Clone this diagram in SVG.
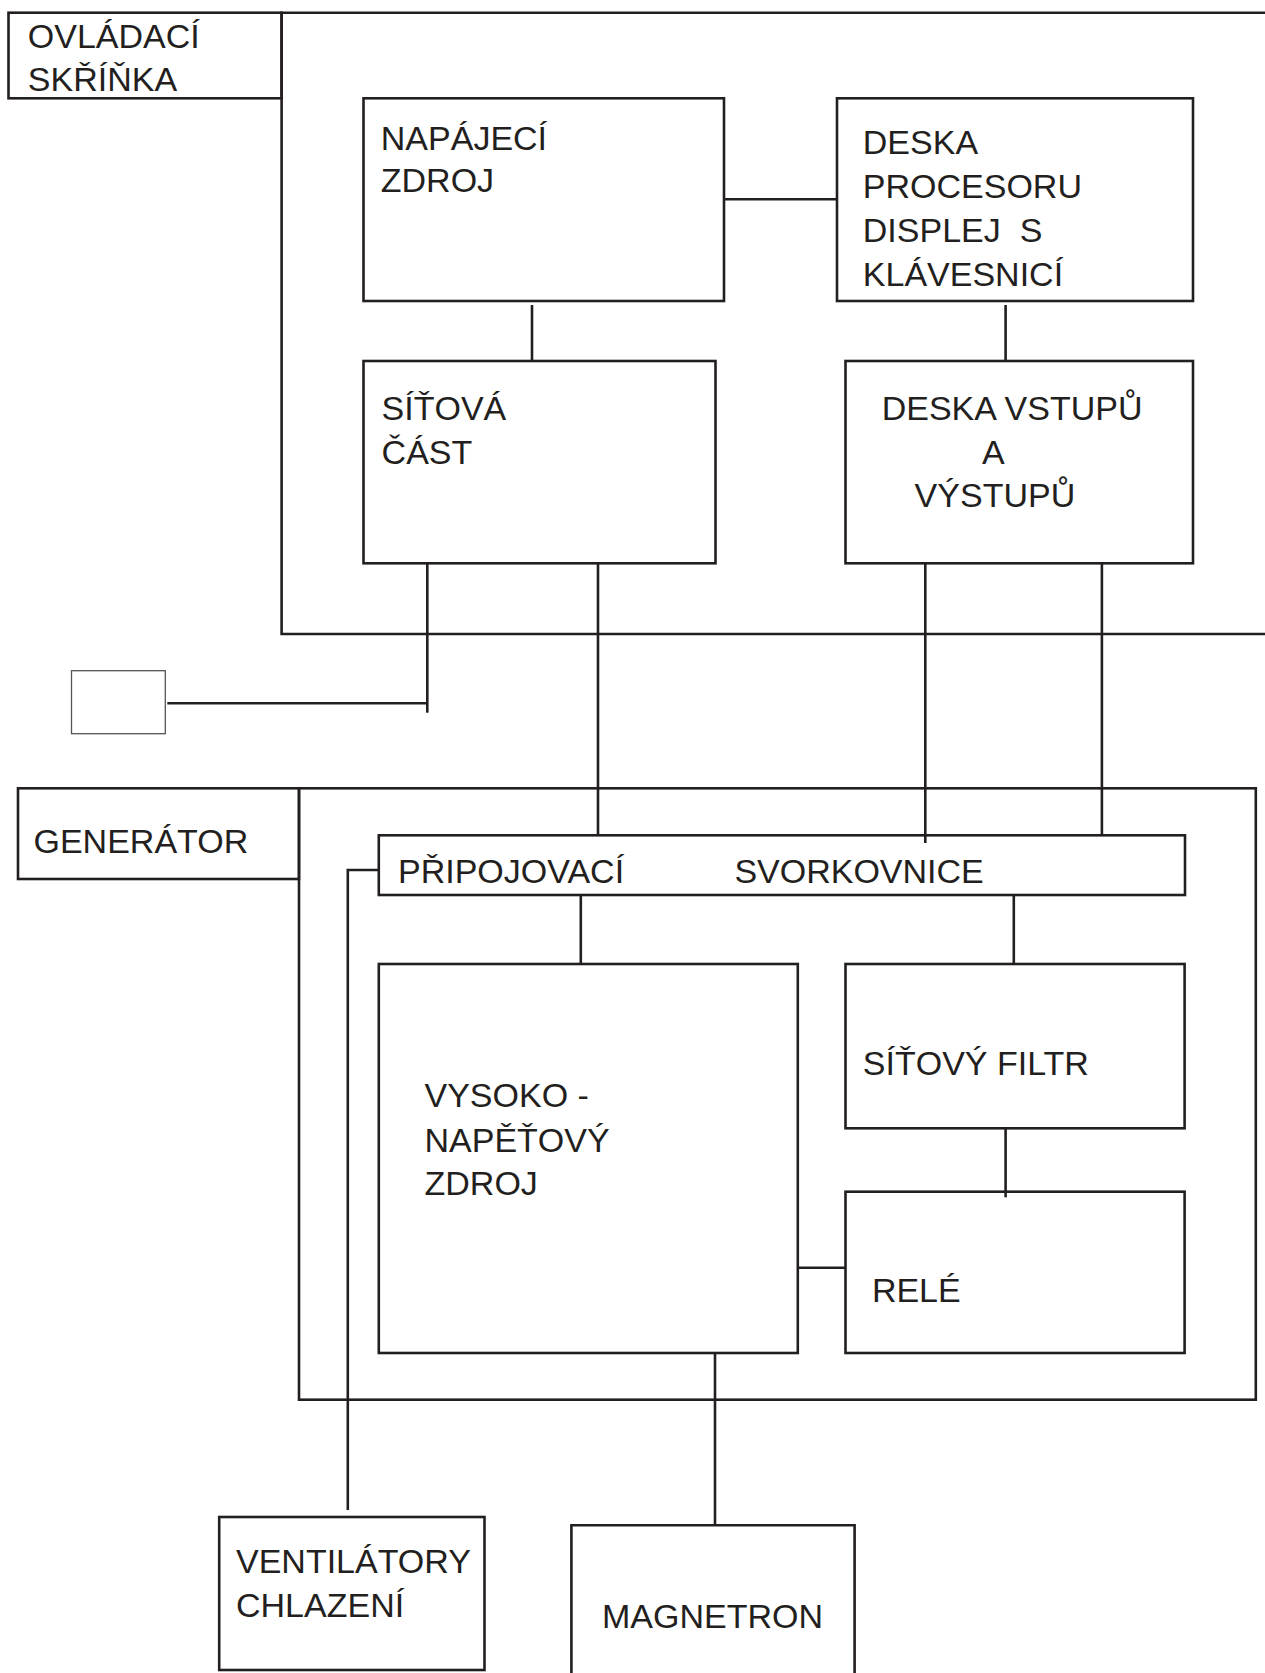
<svg xmlns="http://www.w3.org/2000/svg" width="1265" height="1673" viewBox="0 0 1265 1673">
<style>
.box{fill:none;stroke:#231f20;stroke-width:2.6}
.thin{fill:none;stroke:#555;stroke-width:1.3}
.ln{fill:none;stroke:#231f20;stroke-width:2.6}
text{font-family:"Liberation Sans",Arial,sans-serif;font-size:34px;fill:#231f20}
</style>
<rect width="1265" height="1673" fill="#fff"/>
<g id="ovladaci-skrinka">
<path class="box" d="M1265,12.7 H281.6 V634 H1265"/>
<rect class="box" x="8.5" y="12.7" width="273.1" height="85.6"/>
<text x="27.8" y="47.7">OVLÁDACÍ</text>
<text x="27.8" y="90.7">SKŘÍŇKA</text>
</g>
<g id="napajeci-zdroj">
<rect class="box" x="363.5" y="98.3" width="360.5" height="202.7"/>
<text x="380.8" y="150">NAPÁJECÍ</text>
<text x="380.8" y="192.3">ZDROJ</text>
</g>
<g id="deska-procesoru">
<rect class="box" x="837" y="98.3" width="356" height="202.7"/>
<text x="862.8" y="154">DESKA</text>
<text x="862.8" y="198.3">PROCESORU</text>
<text x="862.8" y="242.3" xml:space="preserve">DISPLEJ  S</text>
<text x="862.8" y="286">KLÁVESNICÍ</text>
</g>
<g id="sitova-cast">
<rect class="box" x="363.5" y="361" width="352" height="202.3"/>
<text x="381.6" y="420">SÍŤOVÁ</text>
<text x="381.6" y="464.3">ČÁST</text>
</g>
<g id="deska-vstupu">
<rect class="box" x="845.5" y="361" width="347.5" height="202.3"/>
<text x="881.7" y="420">DESKA VSTUPŮ</text>
<text x="982" y="464">A</text>
<text x="914.6" y="506.7">VÝSTUPŮ</text>
</g>
<g id="maly-blok">
<rect class="thin" x="71.5" y="670.7" width="93.8" height="63"/>
</g>
<g id="generator">
<rect class="box" x="299" y="788.3" width="956.8" height="611.4"/>
<rect class="box" x="18" y="788.3" width="281" height="90.7"/>
<text x="33.5" y="853.3">GENERÁTOR</text>
</g>
<g id="svorkovnice">
<rect class="box" x="378.8" y="835.3" width="806.2" height="59.7"/>
<text x="398" y="883.3">PŘIPOJOVACÍ</text>
<text x="734.4" y="883.3">SVORKOVNICE</text>
</g>
<g id="vysokonapetovy-zdroj">
<rect class="box" x="378.8" y="964" width="419" height="389"/>
<text x="424.5" y="1106.7">VYSOKO -</text>
<text x="424.5" y="1151.7">NAPĚŤOVÝ</text>
<text x="424.5" y="1195">ZDROJ</text>
</g>
<g id="sitovy-filtr">
<rect class="box" x="845.5" y="964" width="339.1" height="164.3"/>
<text x="862.8" y="1075">SÍŤOVÝ FILTR</text>
</g>
<g id="rele">
<rect class="box" x="845.5" y="1191.7" width="339.1" height="161.3"/>
<text x="871.9" y="1301.7">RELÉ</text>
</g>
<g id="ventilatory">
<rect class="box" x="219.2" y="1517" width="265.3" height="153"/>
<text x="236" y="1573.3">VENTILÁTORY</text>
<text x="236" y="1616.7">CHLAZENÍ</text>
</g>
<g id="magnetron">
<path class="box" d="M571.4,1680 V1525.3 H854.6 V1680"/>
<text x="602" y="1628.3">MAGNETRON</text>
</g>
<g id="connectors">
<path class="ln" d="M724,199.3 H837"/>
<path class="ln" d="M532,305 V361"/>
<path class="ln" d="M1005.6,305 V361"/>
<path class="ln" d="M427.3,563.3 V712.7"/>
<path class="ln" d="M167.3,703.3 H427.3"/>
<path class="ln" d="M598,563.3 V835.3"/>
<path class="ln" d="M925.3,563.3 V843"/>
<path class="ln" d="M1101.9,563.3 V835.3"/>
<path class="ln" d="M378.8,870 H347.8 V1510"/>
<path class="ln" d="M580.8,895 V964"/>
<path class="ln" d="M1013.8,895 V964"/>
<path class="ln" d="M1005.6,1128.3 V1197.3"/>
<path class="ln" d="M797.8,1267.7 H845.5"/>
<path class="ln" d="M715,1353 V1525.3"/>
</g>
</svg>
